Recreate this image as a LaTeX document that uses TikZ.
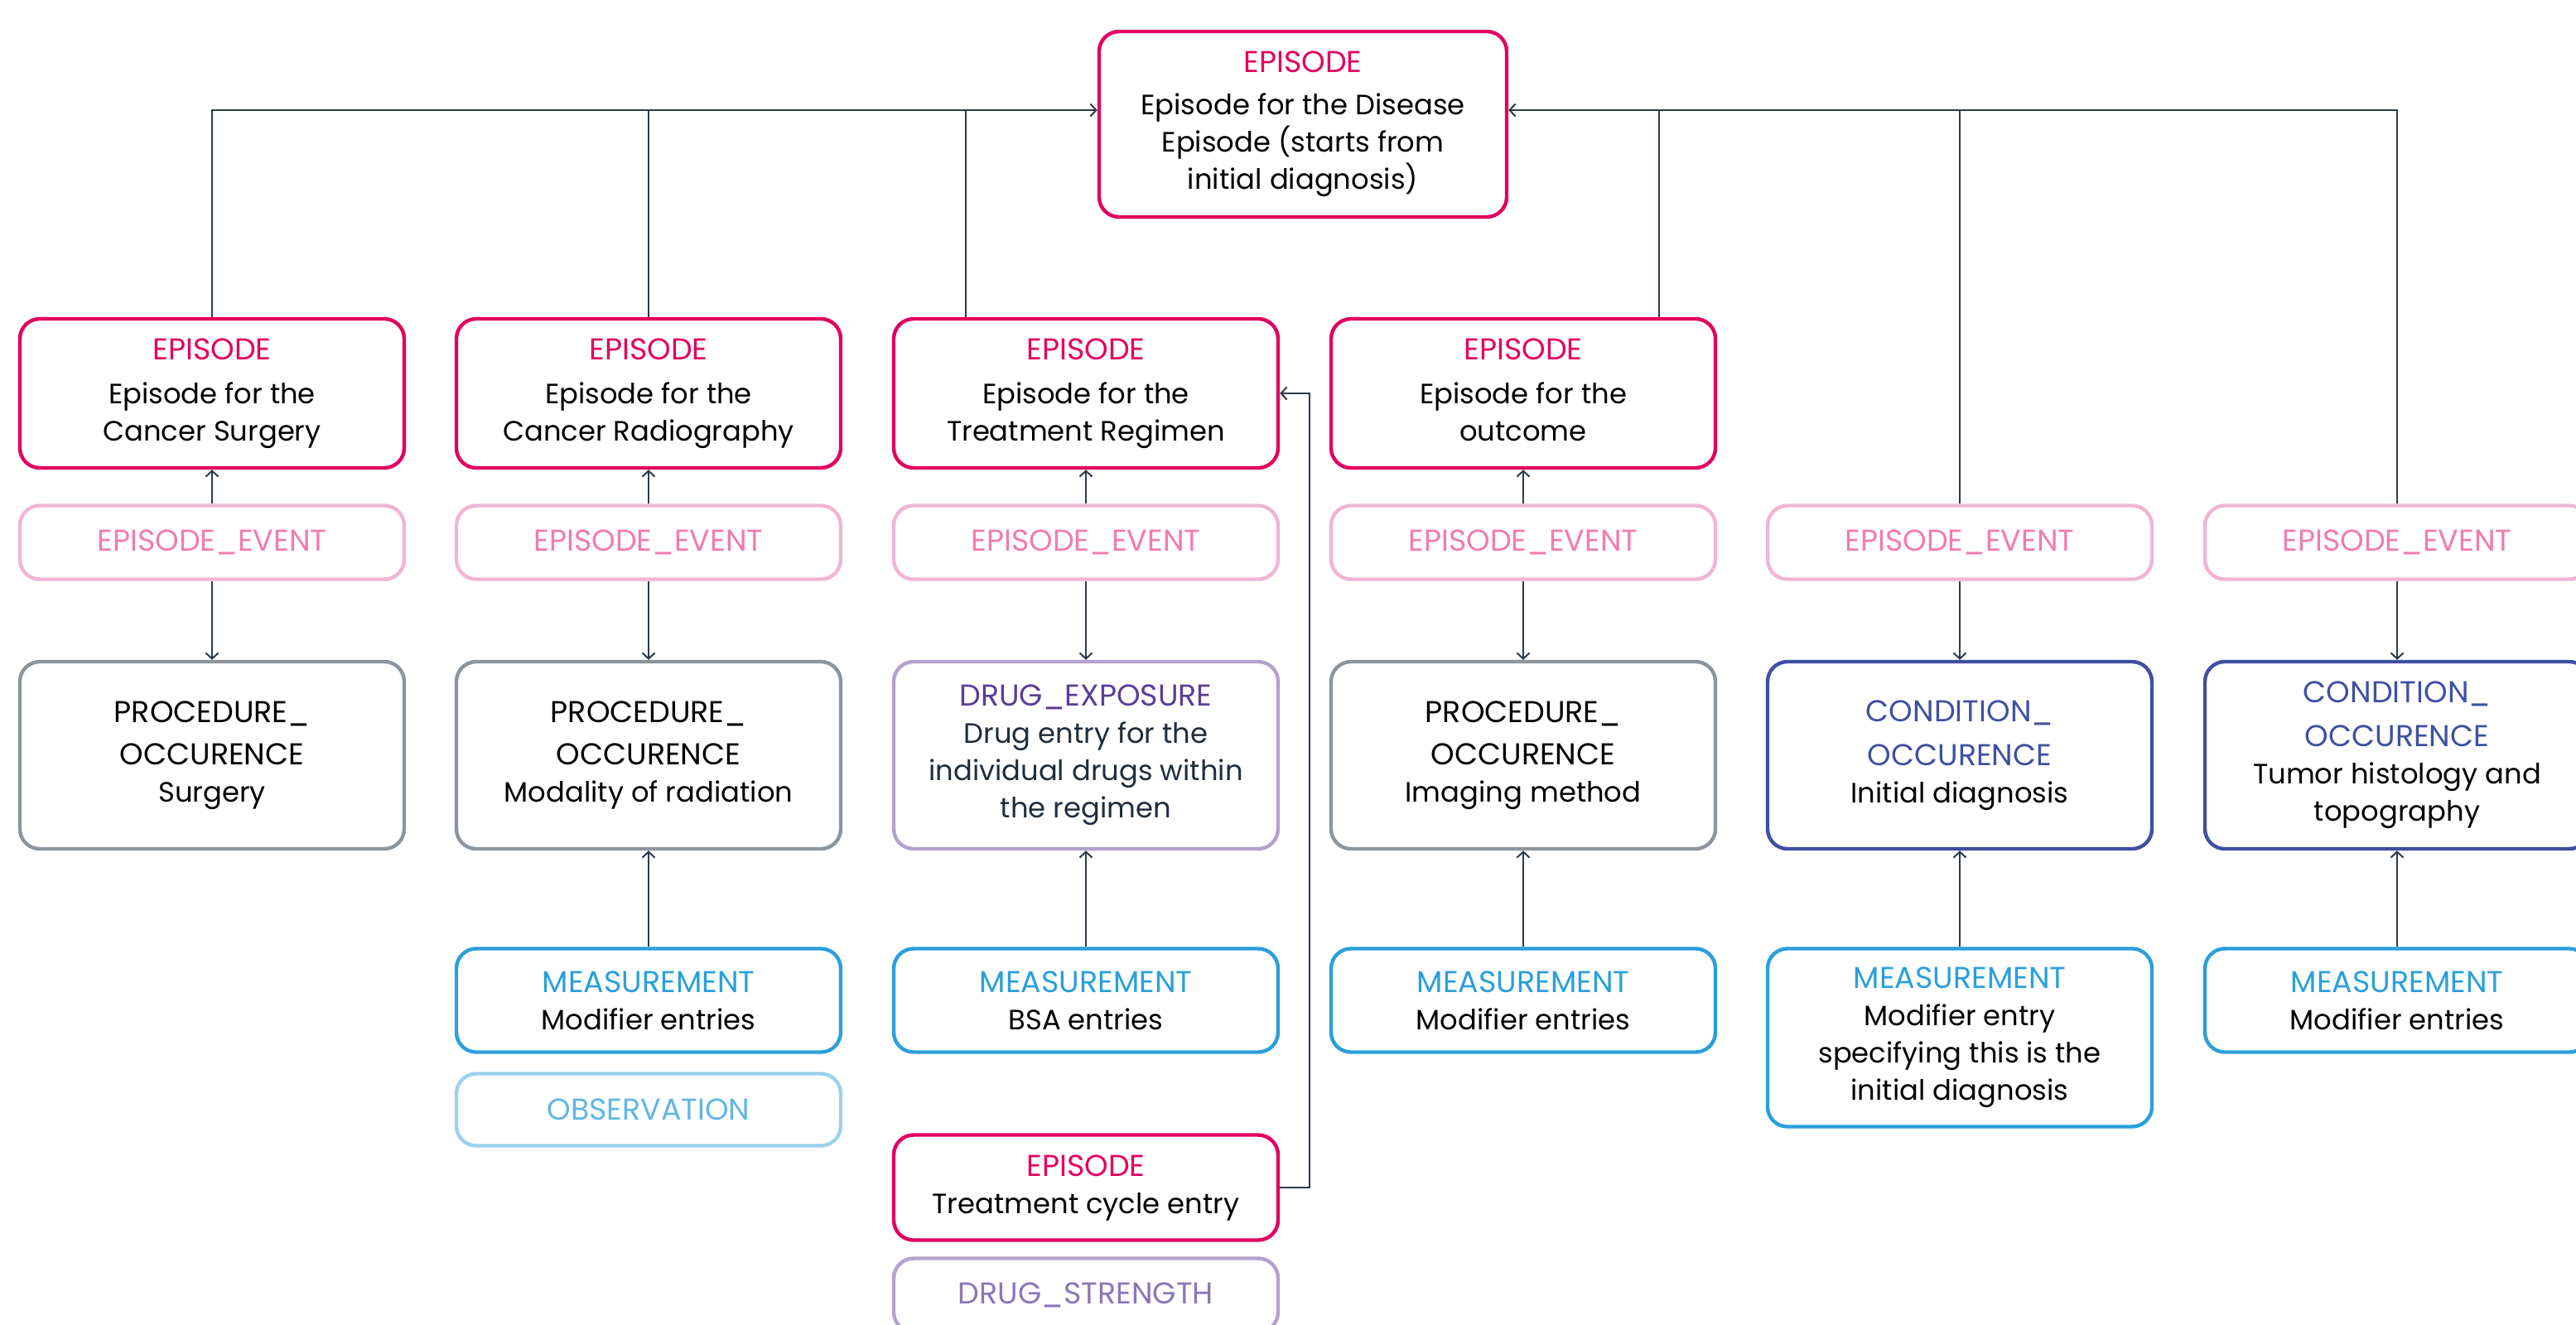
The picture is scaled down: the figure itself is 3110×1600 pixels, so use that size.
\documentclass[tikz,border=0pt]{standalone}
\usepackage{fontspec}
\setmainfont{Poppins}
\usetikzlibrary{arrows.meta,calc}
\definecolor{epi}{HTML}{E2005F}
\definecolor{evb}{HTML}{F0B5D3}
\definecolor{evt}{HTML}{F27BAF}
\definecolor{prb}{HTML}{8C959D}
\definecolor{dxb}{HTML}{B2A2CD}
\definecolor{dxt}{HTML}{5A3E97}
\definecolor{dst}{HTML}{8A76B9}
\definecolor{meb}{HTML}{2A9FDC}
\definecolor{obb}{HTML}{9BD2F0}
\definecolor{obt}{HTML}{5FB6E6}
\definecolor{cob}{HTML}{3E50A2}
\definecolor{lnc}{HTML}{2C3B4A}
\definecolor{dxbody}{HTML}{1F2D3D}
\newcommand{\hd}[2]{{\fontsize{18.2}{22.5}\selectfont\textcolor{#1}{#2}}}
\begin{document}
\begin{tikzpicture}[x=0.5pt,y=-0.5pt,
  bx/.style={draw, rounded corners=12pt, line width=2.2pt, minimum width=232pt,
    align=center, inner sep=2pt, font=\fontsize{16.9}{22.5}\selectfont, fill=white},
  hdfont/.style={font=\fontsize{18.2}{22.5}\selectfont},
  episodebox/.style={bx, draw=epi},
  eventbox/.style={bx, hdfont, draw=evb, text=evt, minimum height=44.5pt},
  procbox/.style={bx, draw=prb, minimum height=113pt},
  drugbox/.style={bx, draw=dxb},
  measbox/.style={bx, draw=meb},
  obsbox/.style={bx, hdfont, draw=obb, text=obt, minimum height=43.5pt},
  condbox/.style={bx, draw=cob, minimum height=113pt},
  ln/.style={draw=lnc, line width=1pt},
  arr/.style={ln, -{Straight Barb[length=3.5pt,width=7.5pt]}}
]
\useasboundingbox (0,0) rectangle (3110,1600);
\fill[white] (0,0) rectangle (3110,1600);

% top
\node[episodebox, minimum width=246pt, minimum height=112pt] (top) at (1573,150)
  {\hd{epi}{EPISODE}\\[3pt]Episode for the Disease\\Episode (starts from\\initial diagnosis)};

% row 1 episodes
\node[episodebox, minimum height=90pt] (ep1) at (256,475) {\hd{epi}{EPISODE}\\[4pt]Episode for the\\Cancer Surgery};
\node[episodebox, minimum height=90pt] (ep2) at (783,475) {\hd{epi}{EPISODE}\\[4pt]Episode for the\\Cancer Radiography};
\node[episodebox, minimum height=90pt] (ep3) at (1311,475) {\hd{epi}{EPISODE}\\[4pt]Episode for the\\Treatment Regimen};
\node[episodebox, minimum height=90pt] (ep4) at (1839,475) {\hd{epi}{EPISODE}\\[4pt]Episode for the\\outcome\vphantom{g}};

% episode events
\node[eventbox] (ee1) at (256,655) {EPISODE\_EVENT};
\node[eventbox] (ee2) at (783,655) {EPISODE\_EVENT};
\node[eventbox] (ee3) at (1311,655) {EPISODE\_EVENT};
\node[eventbox] (ee4) at (1839,655) {EPISODE\_EVENT};
\node[eventbox] (ee5) at (2366,655) {EPISODE\_EVENT};
\node[eventbox] (ee6) at (2894,655) {EPISODE\_EVENT};

% row 3
\node[procbox] (po1) at (256,912) {\hd{black}{PROCEDURE\_}\\[3pt]\hd{black}{OCCURENCE}\\Surgery};
\node[procbox] (po2) at (783,912) {\hd{black}{PROCEDURE\_}\\[3pt]\hd{black}{OCCURENCE}\\Modality of radiation};
\node[drugbox, minimum height=113pt] (de3) at (1311,912) {\hd{dxt}{DRUG\_EXPOSURE}\\\textcolor{dxbody}{Drug entry for the}\\\textcolor{dxbody}{individual drugs within}\\\textcolor{dxbody}{the regimen}};
\node[procbox] (po4) at (1839,912) {\hd{black}{PROCEDURE\_}\\[3pt]\hd{black}{OCCURENCE}\\Imaging method};
\node[condbox] (co5) at (2366,912) {\hd{cob}{CONDITION\_}\\[4pt]\hd{cob}{OCCURENCE}\\Initial diagnosis};
\node[condbox] (co6) at (2894,912) {\hd{cob}{CONDITION\_}\\[4pt]\hd{cob}{OCCURENCE}\\Tumor histology and\\topography};

% measurements
\node[measbox, minimum height=62.5pt] (me2) at (783,1208) {\hd{meb}{MEASUREMENT}\\Modifier entries};
\node[measbox, minimum height=62.5pt] (me3) at (1311,1208) {\hd{meb}{MEASUREMENT}\\BSA entries};
\node[measbox, minimum height=62.5pt] (me4) at (1839,1208) {\hd{meb}{MEASUREMENT}\\Modifier entries};
\node[measbox, minimum height=107.5pt] (me5) at (2366,1253) {\hd{meb}{MEASUREMENT}\\Modifier entry\\specifying this is the\\initial diagnosis};
\node[measbox, minimum height=62.5pt] (me6) at (2894,1208) {\hd{meb}{MEASUREMENT}\\Modifier entries};

\node[obsbox] (ob2) at (783,1340) {OBSERVATION};
\node[episodebox, minimum height=63.5pt] (cy3) at (1311,1434) {\hd{epi}{EPISODE}\\Treatment cycle entry};
\node[drugbox, hdfont, text=dst, minimum height=44.5pt] (ds3) at (1311,1564) {DRUG\_STRENGTH};

% connectors to top
\coordinate (tin) at ($(top.west)+(0,-17)$);
\coordinate (tinr) at ($(top.east)+(0,-17)$);
\draw[arr] (ep1.north) |- (tin);
\draw[ln] (ep2.north) -- (ep2.north |- tin);
\coordinate (ep3t) at ($(ep3.north west)+(89,0)$);
\draw[ln] (ep3t) -- (ep3t |- tin);
\draw[arr] (ee6.north) |- (tinr);
\draw[ln] (ee5.north) -- (ee5.north |- tinr);
\coordinate (ep4t) at ($(ep4.north east)+(-70,0)$);
\draw[ln] (ep4t) -- (ep4t |- tinr);

% vertical arrows
\foreach \i in {1,2,3,4} {\draw[arr] (ee\i.north) -- (ep\i.south);}
\draw[arr] (ee1.south) -- (po1.north);
\draw[arr] (ee2.south) -- (po2.north);
\draw[arr] (ee3.south) -- (de3.north);
\draw[arr] (ee4.south) -- (po4.north);
\draw[arr] (ee5.south) -- (co5.north);
\draw[arr] (ee6.south) -- (co6.north);
\draw[arr] (me2.north) -- (po2.south);
\draw[arr] (me3.north) -- (de3.south);
\draw[arr] (me4.north) -- (po4.south);
\draw[arr] (me5.north) -- (co5.south);
\draw[arr] (me6.north) -- (co6.south);

% treatment cycle to regimen
\draw[arr] (cy3.east) -- ++(36,0) |- (ep3.east);
\end{tikzpicture}
\end{document}
